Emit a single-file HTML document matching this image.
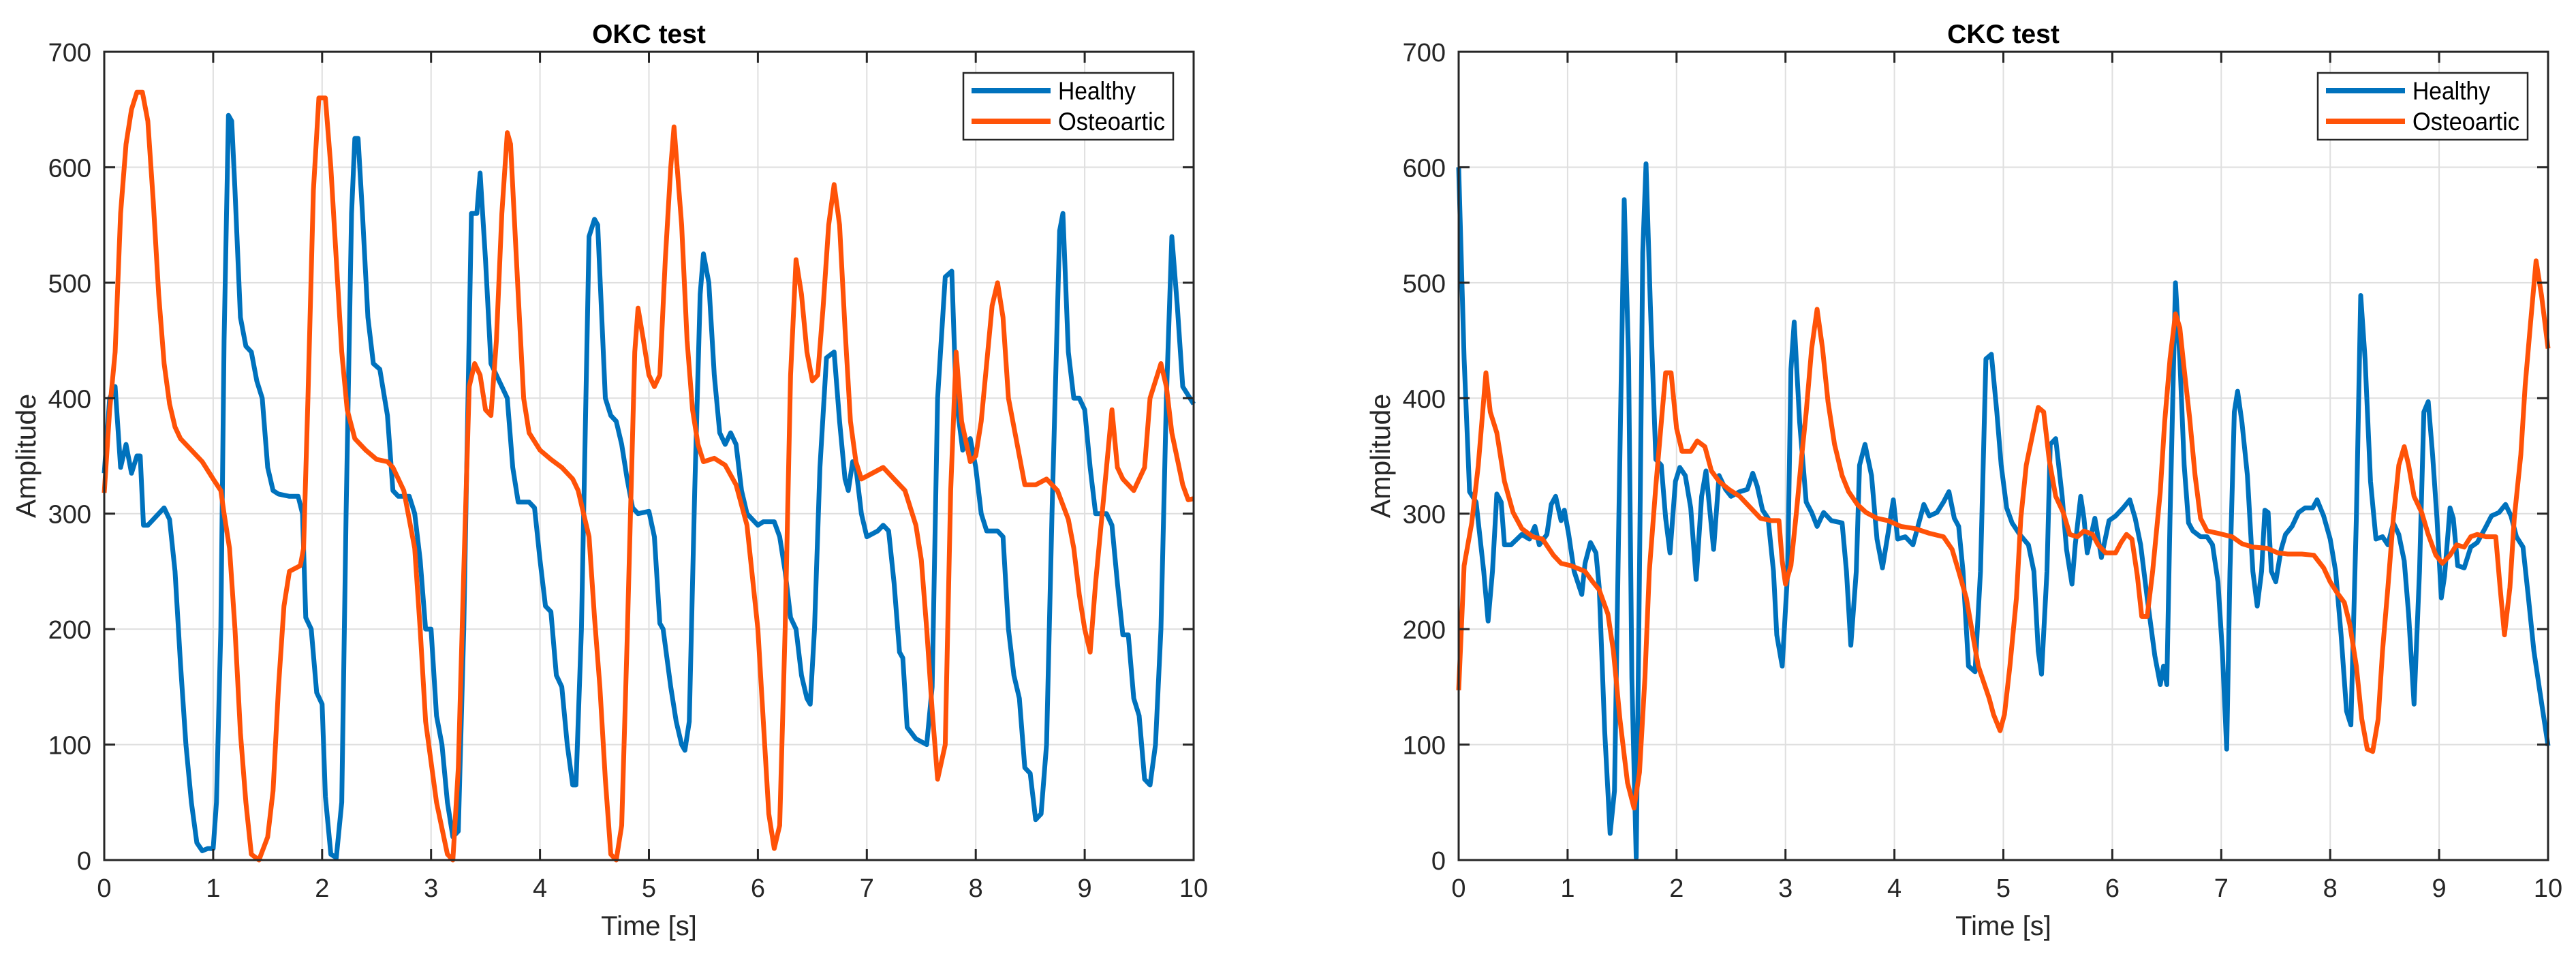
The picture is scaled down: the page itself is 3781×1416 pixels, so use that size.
<!DOCTYPE html>
<html><head><meta charset="utf-8"><style>
html,body{margin:0;padding:0;background:#fff;}
svg{display:block;font-family:"Liberation Sans",Arial,sans-serif;}
</style></head><body>
<svg id="chart" width="3781" height="1416" viewBox="0 0 3781 1416" xmlns="http://www.w3.org/2000/svg"></svg>
<script>
const xTicks=[0,1,2,3,4,5,6,7,8,9,10];
const yTicks=[0,100,200,300,400,500,600,700];
const okcHealthyT=[0,.05,.1,.15,.2,.25,.3,.33,.36,.4,.45,.5,.55,.6,.65,.7,.75,.8,.85,.9,.95,1,1.03,1.07,1.1,1.14,1.17,1.2,1.25,1.3,1.35,1.4,1.45,1.5,1.55,1.6,1.7,1.78,1.82,1.85,1.9,1.95,2,2.03,2.08,2.13,2.18,2.22,2.27,2.3,2.33,2.37,2.42,2.47,2.53,2.6,2.65,2.7,2.8,2.85,2.9,2.95,3,3.05,3.1,3.15,3.2,3.25,3.3,3.37,3.42,3.45,3.5,3.55,3.6,3.65,3.7,3.75,3.8,3.9,3.95,4,4.05,4.1,4.15,4.2,4.25,4.3,4.33,4.38,4.45,4.5,4.53,4.6,4.65,4.7,4.75,4.8,4.85,4.9,5,5.05,5.1,5.13,5.2,5.25,5.3,5.33,5.37,5.42,5.47,5.5,5.55,5.6,5.65,5.7,5.75,5.8,5.85,5.9,6,6.05,6.15,6.2,6.25,6.3,6.35,6.4,6.45,6.48,6.52,6.57,6.63,6.7,6.75,6.8,6.83,6.87,6.9,6.95,7,7.1,7.15,7.2,7.25,7.3,7.33,7.37,7.45,7.55,7.6,7.65,7.72,7.78,7.82,7.88,7.95,8,8.05,8.1,8.2,8.25,8.3,8.35,8.4,8.45,8.5,8.55,8.6,8.65,8.7,8.77,8.8,8.85,8.9,8.95,9,9.05,9.1,9.2,9.25,9.3,9.35,9.4,9.45,9.5,9.55,9.6,9.65,9.7,9.75,9.8,9.85,9.9,10];
const okcHealthyV=[335,400,410,340,360,335,350,350,290,290,295,300,305,295,250,170,100,50,15,8,10,10,50,200,450,645,640,580,470,445,440,415,400,340,320,317,315,315,300,210,200,145,135,55,5,2,50,300,560,625,625,560,470,430,425,385,320,315,315,300,260,200,200,125,100,50,20,25,200,560,560,595,520,430,420,410,400,340,310,310,305,260,220,215,160,150,100,65,65,200,540,555,550,400,385,380,360,330,305,300,302,280,205,200,150,120,100,95,120,320,490,525,500,420,370,360,370,360,320,300,290,293,293,280,250,210,200,160,140,135,200,340,435,440,380,330,320,345,340,300,280,285,290,285,240,180,175,115,105,100,150,400,505,510,400,355,365,340,300,285,285,280,200,160,140,80,75,35,40,100,300,545,560,440,400,400,390,340,300,300,290,240,195,195,140,125,70,65,100,200,400,540,480,410,395];
const okcOsteoT=[0,.05,.1,.15,.2,.25,.3,.35,.4,.45,.5,.55,.6,.65,.7,.8,.9,1,1.07,1.1,1.15,1.2,1.25,1.3,1.35,1.42,1.5,1.55,1.6,1.65,1.7,1.8,1.83,1.87,1.92,1.97,2.03,2.08,2.13,2.18,2.23,2.3,2.4,2.5,2.6,2.65,2.75,2.85,2.9,2.95,3.05,3.15,3.2,3.25,3.3,3.35,3.4,3.45,3.5,3.55,3.6,3.65,3.7,3.73,3.8,3.85,3.9,4,4.1,4.2,4.3,4.35,4.45,4.5,4.55,4.6,4.65,4.7,4.75,4.8,4.87,4.9,4.95,5,5.05,5.1,5.15,5.2,5.23,5.3,5.35,5.4,5.45,5.5,5.6,5.7,5.8,5.9,6,6.05,6.1,6.15,6.2,6.25,6.3,6.35,6.4,6.45,6.5,6.55,6.6,6.65,6.7,6.75,6.8,6.85,6.9,6.95,7.05,7.15,7.25,7.35,7.45,7.5,7.55,7.6,7.65,7.72,7.77,7.82,7.87,7.95,8,8.05,8.1,8.15,8.2,8.25,8.3,8.4,8.45,8.55,8.65,8.75,8.85,8.9,8.95,9,9.05,9.1,9.2,9.25,9.3,9.35,9.45,9.55,9.6,9.7,9.75,9.8,9.9,9.95,10];
const okcOsteoV=[318,390,440,560,620,650,665,665,640,570,490,430,395,375,365,355,345,330,320,300,270,200,110,50,5,0,20,60,150,220,250,255,270,400,580,660,660,600,520,440,390,365,355,347,345,340,320,270,200,120,50,5,0,80,250,410,430,420,390,385,450,560,630,620,490,400,370,355,347,340,330,320,280,210,150,70,5,0,30,190,440,478,450,420,410,420,520,600,635,550,450,390,360,345,348,342,325,290,200,120,40,10,30,200,420,520,490,440,415,420,480,550,585,550,460,380,345,330,335,340,330,320,290,260,200,130,70,100,320,440,380,345,350,380,430,480,500,470,400,350,325,325,330,320,295,270,230,200,180,240,340,390,340,330,320,340,400,430,410,370,325,312,313];
const ckcHealthyT=[0,.05,.1,.16,.23,.27,.31,.35,.39,.42,.48,.58,.65,.7,.74,.81,.85,.89,.94,.97,1.01,1.06,1.13,1.16,1.21,1.26,1.29,1.34,1.39,1.43,1.47,1.52,1.56,1.59,1.63,1.66,1.69,1.72,1.76,1.81,1.86,1.9,1.94,1.99,2.03,2.08,2.13,2.18,2.23,2.27,2.34,2.39,2.45,2.5,2.58,2.65,2.7,2.74,2.79,2.84,2.89,2.92,2.97,3.02,3.05,3.08,3.13,3.19,3.24,3.29,3.35,3.42,3.52,3.56,3.6,3.65,3.68,3.73,3.79,3.84,3.89,3.94,3.99,4.03,4.1,4.17,4.23,4.27,4.32,4.39,4.45,4.5,4.55,4.59,4.63,4.68,4.74,4.79,4.84,4.89,4.94,4.98,5.03,5.08,5.15,5.23,5.28,5.32,5.35,5.4,5.43,5.48,5.54,5.58,5.63,5.66,5.71,5.74,5.77,5.84,5.9,5.97,6.03,6.1,6.16,6.21,6.26,6.32,6.39,6.44,6.47,6.5,6.53,6.58,6.62,6.66,6.7,6.74,6.81,6.87,6.92,6.97,7.01,7.05,7.08,7.12,7.15,7.19,7.24,7.29,7.33,7.37,7.4,7.43,7.46,7.5,7.55,7.59,7.65,7.71,7.77,7.84,7.88,7.94,8,8.05,8.1,8.15,8.19,8.24,8.28,8.32,8.37,8.42,8.48,8.53,8.58,8.63,8.68,8.72,8.77,8.82,8.86,8.9,8.94,8.98,9.02,9.05,9.1,9.13,9.17,9.23,9.29,9.35,9.42,9.48,9.55,9.61,9.66,9.71,9.77,9.82,9.87,9.92,10];
const ckcHealthyV=[600,434,319,310,250,207,250,317,310,273,273,282,278,289,273,282,308,315,294,303,282,250,230,257,275,266,236,112,23,60,296,572,434,158,2,250,526,603,480,347,342,296,266,328,340,333,305,243,315,337,269,333,321,315,319,321,335,324,303,296,250,195,168,250,425,466,379,310,301,289,301,294,292,250,186,250,342,360,333,278,253,282,312,278,280,273,294,308,298,301,310,319,296,289,250,168,163,250,434,438,388,342,305,292,282,273,250,181,161,250,360,365,315,269,239,273,315,296,266,296,262,294,298,305,312,296,273,227,177,152,168,152,296,500,434,342,292,285,280,280,273,241,181,96,250,388,406,379,333,250,220,250,303,301,250,241,269,282,289,301,305,305,312,298,278,250,195,129,117,296,489,434,328,278,280,273,292,282,259,213,135,250,388,397,351,296,227,246,305,296,255,253,271,275,287,298,301,308,298,280,271,227,181,149,99];
const ckcOsteoT=[0,.05,.12,.18,.25,.29,.35,.42,.5,.58,.68,.77,.87,.94,1.03,1.16,1.23,1.29,1.37,1.42,1.48,1.55,1.61,1.66,1.71,1.75,1.81,1.86,1.9,1.95,2,2.05,2.13,2.19,2.26,2.32,2.39,2.48,2.58,2.68,2.77,2.87,2.94,2.97,3,3.05,3.1,3.15,3.19,3.24,3.29,3.34,3.39,3.45,3.52,3.58,3.66,3.74,3.84,3.94,4.06,4.19,4.32,4.45,4.53,4.59,4.66,4.71,4.77,4.82,4.87,4.91,4.97,5.01,5.06,5.12,5.16,5.21,5.28,5.32,5.37,5.42,5.48,5.55,5.61,5.68,5.74,5.82,5.87,5.94,6.03,6.08,6.13,6.18,6.23,6.27,6.32,6.37,6.44,6.48,6.53,6.58,6.62,6.66,6.71,6.76,6.81,6.87,6.97,7.1,7.19,7.29,7.42,7.52,7.61,7.74,7.85,7.94,8,8.06,8.13,8.18,8.24,8.29,8.34,8.39,8.44,8.48,8.53,8.58,8.63,8.68,8.72,8.77,8.84,8.9,8.97,9.03,9.1,9.16,9.23,9.29,9.35,9.43,9.52,9.56,9.6,9.65,9.69,9.75,9.79,9.84,9.89,9.94,10];
const ckcOsteoV=[147,255,292,342,422,388,370,328,301,287,280,278,264,257,255,250,241,234,213,181,122,67,45,76,158,250,324,379,422,422,374,354,354,363,358,337,328,321,315,305,296,294,294,259,239,255,301,351,388,443,477,443,397,360,333,319,308,301,296,294,289,287,283,280,269,250,227,200,168,154,140,126,112,126,168,227,296,342,374,392,388,347,315,301,282,280,285,282,273,266,266,275,282,278,246,211,211,250,319,379,434,473,461,425,383,333,296,285,283,280,274,271,270,266,265,265,264,253,241,232,223,204,168,122,96,94,122,181,236,296,342,358,342,315,301,282,264,257,264,273,271,280,282,280,280,236,195,236,296,351,411,466,519,489,443];

const NS='http://www.w3.org/2000/svg';
const svg=document.getElementById('chart');
const TOP=76,BOT=1262,W=1599;
function mk(tag,attrs,parent){const e=document.createElementNS(NS,tag);for(const k in attrs)e.setAttribute(k,attrs[k]);(parent||svg).appendChild(e);return e;}

function drawPanel(x0,title,series,prefix){
  const g=mk('g',{});
  
  
  const sx=t=>x0+t/10*W;
  const sy=v=>BOT-v/700*(BOT-TOP);
  xTicks.forEach(t=>{const l=mk('line',{x1:sx(t),x2:sx(t),y1:TOP,y2:BOT,stroke:'#dfdfdf','stroke-width':2},g);
    
    });
  yTicks.forEach(v=>{const l=mk('line',{x1:x0,x2:x0+W,y1:sy(v),y2:sy(v),stroke:'#dfdfdf','stroke-width':2},g);
    
    });
  series.forEach(s=>{
    let d='';
    s.t.forEach((t,i)=>{d+=(i?'L':'M')+sx(t).toFixed(1)+' '+sy(s.v[i]).toFixed(1);});
    const p=mk('path',{d:d,fill:'none',stroke:s.c,'stroke-width':7,'stroke-linejoin':'round'},g);
    
    
  });
  const box=mk('rect',{x:x0,y:TOP,width:W,height:BOT-TOP,fill:'none',stroke:'#262626','stroke-width':3},g);
  
  
  xTicks.forEach(t=>{
    mk('line',{x1:sx(t),x2:sx(t),y1:BOT,y2:BOT-16,stroke:'#262626','stroke-width':3},g);
    mk('line',{x1:sx(t),x2:sx(t),y1:TOP,y2:TOP+16,stroke:'#262626','stroke-width':3},g);
    const tx=mk('text',{x:sx(t),y:1316,'text-anchor':'middle','font-size':38,fill:'#262626'},g);
    tx.textContent=t;
    
    
  });
  yTicks.forEach(v=>{
    mk('line',{x1:x0,x2:x0+16,y1:sy(v),y2:sy(v),stroke:'#262626','stroke-width':3},g);
    mk('line',{x1:x0+W,x2:x0+W-16,y1:sy(v),y2:sy(v),stroke:'#262626','stroke-width':3},g);
    const tx=mk('text',{x:x0-19,y:sy(v)+14,'text-anchor':'end','font-size':38,fill:'#262626'},g);
    tx.textContent=v;
    
    
  });
  const ti=mk('text',{x:x0+W/2,y:63,'text-anchor':'middle','font-size':39,'font-weight':'bold',fill:'#000'},g);
  ti.textContent=title;
  
  
  const xl=mk('text',{x:x0+W/2,y:1372,'text-anchor':'middle','font-size':40,fill:'#262626'},g);
  xl.textContent='Time [s]';
  
  
  const yl=mk('text',{x:0,y:0,'text-anchor':'middle','font-size':41,fill:'#262626',transform:'translate('+(x0-101)+','+((TOP+BOT)/2)+') rotate(-90)'},g);
  yl.textContent='Amplitude';
  
  
  const lx=x0+W-338;
  const lg=mk('g',{},g);
  
  
  mk('rect',{x:lx,y:107,width:308,height:98,fill:'#fff',stroke:'#262626','stroke-width':2.5},lg);
  series.forEach((s,i)=>{
    const yy=133+i*45;
    const e=mk('g',{},lg);
    
    
    mk('line',{x1:lx+12,x2:lx+128,y1:yy,y2:yy,stroke:s.c,'stroke-width':8},e);
    const t=mk('text',{x:lx+139,y:yy+13,'font-size':37,fill:'#000',textLength:s.tl,lengthAdjust:'spacingAndGlyphs'},e);
    t.textContent=s.label;
  });
}
drawPanel(153,'OKC test',[
  {t:okcHealthyT,v:okcHealthyV,c:'#0072BD',n:'healthy',label:'Healthy',tl:114},
  {t:okcOsteoT,v:okcOsteoV,c:'#FF5208',n:'osteoartic',label:'Osteoartic',tl:157}],'okc');
drawPanel(2141,'CKC test',[
  {t:ckcHealthyT,v:ckcHealthyV,c:'#0072BD',n:'healthy',label:'Healthy',tl:114},
  {t:ckcOsteoT,v:ckcOsteoV,c:'#FF5208',n:'osteoartic',label:'Osteoartic',tl:157}],'ckc');
</script>
</body></html>
